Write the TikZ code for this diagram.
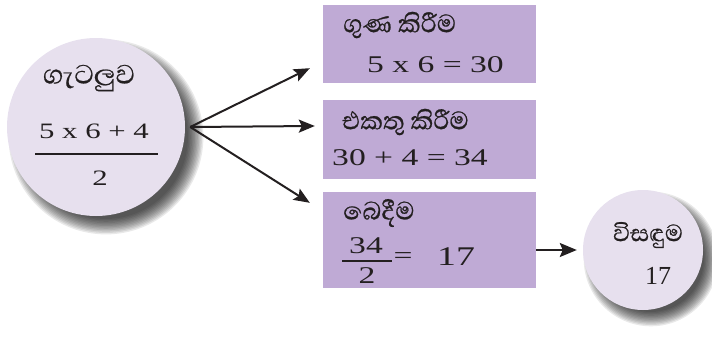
\documentclass[tikz,border=0pt]{standalone}
\usepackage{fontspec}
\setmainfont{Liberation Serif}
\newfontfamily\widenum{Liberation Serif}[FakeStretch=1.4]
\newfontfamily\sinhala[Script=Sinhala,FakeBold=0.6]{Abhaya Libre}
\usetikzlibrary{arrows.meta}
\definecolor{discfill}{RGB}{231,224,238}
\definecolor{cardfill}{RGB}{191,170,213}
\definecolor{inkgray}{RGB}{35,31,32}
\begin{document}
\begin{tikzpicture}[
    x=1pt, y=-1pt,
    disc/.style={circle, fill=discfill, inner sep=0pt},
    blur/.style={fill=black, opacity=0.085},
    card/.style={rectangle, fill=cardfill, inner sep=0pt, minimum width=213pt},
    title/.style={font=\sinhala\fontsize{32}{36}\selectfont, text=inkgray, inner sep=0pt},
    sum/.style={font=\widenum\fontsize{24}{28}\selectfont, text=inkgray, inner sep=0pt},
    bigsum/.style={font=\widenum\fontsize{22}{26}\selectfont, text=inkgray, inner sep=0pt},
    plain/.style={font=\fontsize{26}{30}\selectfont, text=inkgray, inner sep=0pt},
    fracline/.style={draw=inkgray, line width=1.3pt},
    flow/.style={draw=inkgray, line width=2pt,
      -{Stealth[length=16pt,width=13pt,inset=3pt]}}
  ]
  \useasboundingbox (0,0) rectangle (712,337);
  \coordinate (probc) at (96,127);
  \coordinate (ansc) at (643,250);
  % soft shadows
  \foreach \s in {0,...,11} {
    \fill[blur] ([shift={(10pt,-10pt)}]probc) circle[radius=82+1.4*\s];
    \fill[blur] ([shift={(8pt,-9pt)}]ansc) circle[radius=53+1.3*\s];
  }
  % problem
  \node[disc, minimum size=178pt] (prob) at (probc) {};
  \node[title, font=\sinhala\fontsize{34}{36}\selectfont] (probtitle) at (89,78) {ගැටලුව};
  \node[bigsum] (probnum) at (94,131) {5 x 6 + 4};
  \draw[fracline] (35,154) -- (158,154);
  \node[bigsum] (probden) at (100,178) {2};
  % steps
  \node[card, minimum height=78pt] (mul) at (429.5,44) {};
  \node[title, anchor=west] (multitle) at (343,25) {ගුණ කිරීම};
  \node[sum, anchor=west] (mulsum) at (367,65) {5 x 6 = 30};
  \node[card, minimum height=79pt] (add) at (429.5,139.5) {};
  \node[title, anchor=west] (addtitle) at (342,122) {එකතු කිරීම};
  \node[sum, anchor=west] (addsum) at (332,158) {30 + 4 = 34};
  \node[card, minimum height=96pt] (div) at (429.5,240) {};
  \node[title, anchor=west] (divtitle) at (343,213) {බෙදීම};
  \node[sum] (divnum) at (366,246) {34};
  \draw[fracline] (342,261) -- (392,261);
  \node[sum] (divden) at (367,276) {2};
  \node[sum] (diveq) at (403,258) {=};
  \node[sum, font=\widenum\fontsize{27}{30}\selectfont] (divval) at (456,257) {17};
  % answer
  \node[disc, minimum size=120pt] (ans) at (ansc) {};
  \node[title, font=\sinhala\fontsize{30}{33}\selectfont] (anstitle) at (648,235) {විසඳුම};
  \node[plain] (ansval) at (658,276) {17};
  % arrows
  \coordinate (hub) at ([xshift=5pt]prob.east);
  \draw[flow] (hub) -- ([xshift=-13pt,yshift=15pt]mul.south west);
  \draw[flow] (hub) -- ([xshift=-8pt,yshift=13.5pt]add.west);
  \draw[flow] (hub) -- ([xshift=-13pt,yshift=-11pt]div.north west);
  \draw[flow, -{Stealth[length=17pt,width=14pt,inset=3pt]}]
    (div.east |- ans.west) -- ([xshift=-6pt]ans.west);
\end{tikzpicture}
\end{document}
